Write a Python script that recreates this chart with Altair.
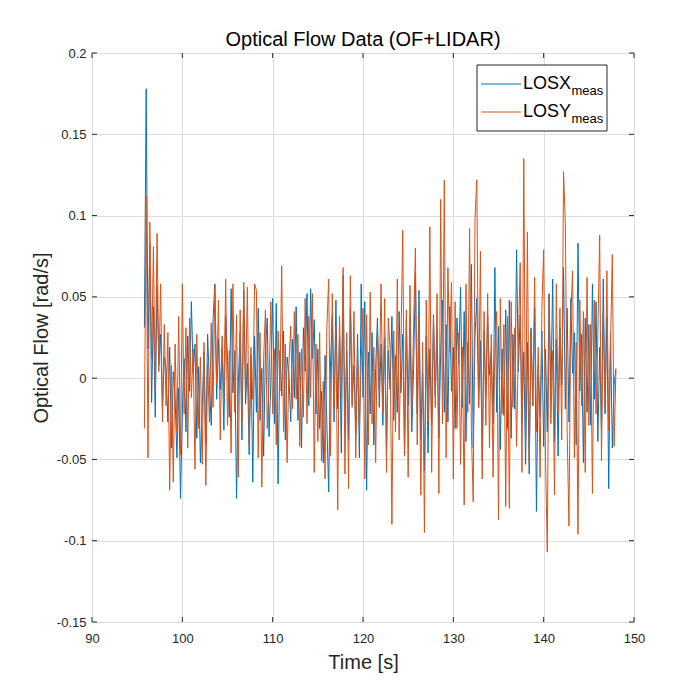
import altair as alt
import pandas as pd

# time axis: start and step of the samples (s)
T0 = 95.8
DT = 0.2

losx = [
    0.031, 0.178, 0.018, 0.083, -0.015, 0.044, -0.024, 0.057, 0.008, 0.027, -0.018, 0.013,
    0.006, -0.027, 0.019, -0.043, 0.004, -0.012, -0.049, -0.006, -0.074, -0.021,
    0.012, -0.033, 0.026, -0.008, 0.047, 0.003, 0.021, -0.037, 0.007, -0.052,
    -0.018, 0.016, -0.041, 0.027, -0.004, -0.029, 0.036, 0.058, -0.013, 0.024,
    -0.007, 0.019, -0.032, 0.038, 0.011, -0.024, 0.055, -0.009, 0.017, -0.074,
    -0.003, 0.028, -0.038, 0.054, -0.016, 0.009, -0.047, 0.014, -0.064, 0.026,
    -0.021, 0.043, -0.026, 0.006, -0.048, 0.018, 0.037, -0.036, -0.002, 0.049,
    -0.028, 0.046, -0.065, 0.017, -0.011, 0.029, -0.038, 0.013, 0.002, -0.027,
    0.024, -0.012, 0.044, -0.026, 0.016, -0.043, 0.031, 0.004, 0.052, -0.017,
    0.055, 0.012, 0.036, -0.022, 0.018, -0.031, -0.008, -0.052, 0.014, -0.028,
    -0.07, 0.008, 0.039, -0.027, 0.048, -0.019, 0.026, -0.046, 0.063, -0.032,
    0.017, -0.038, 0.043, -0.016, 0.008, -0.034, 0.027, -0.049, 0.058, -0.012,
    0.047, -0.069, 0.016, -0.022, 0.028, -0.041, 0.006, 0.037, -0.018, 0.021,
    -0.029, 0.025, -0.044, 0.017, -0.007, 0.038, -0.026, 0.014, -0.021, 0.041,
    -0.009, 0.027, -0.048, 0.036, -0.017, 0.031, -0.033, 0.006, 0.065, -0.022,
    0.054, -0.038, 0.003, -0.057, 0.026, -0.046, 0.018, -0.029, 0.039, -0.011,
    0.028, -0.037, 0.016, 0.048, -0.021, 0.033, -0.027, 0.044, -0.008, 0.019,
    -0.031, 0.037, 0.009, 0.056, -0.018, 0.041, -0.039, 0.022, -0.016, 0.07,
    -0.043, 0.026, 0.049, -0.018, 0.023, -0.051, 0.029, -0.011, 0.038, 0.002,
    0.017, -0.028, 0.068, -0.021, 0.032, -0.044, 0.018, -0.023, 0.042, -0.031,
    0.048, -0.037, 0.027, -0.019, 0.079, 0.004, 0.039, -0.028, 0.016, -0.053,
    0.022, -0.059, 0.031, -0.017, 0.043, -0.082, 0.008, -0.024, 0.029, -0.042,
    0.018, -0.033, 0.052, -0.012, 0.061, -0.039, 0.024, -0.048, 0.031, -0.004,
    0.068, -0.019, 0.043, -0.027, 0.049, 0.003, 0.028, -0.041, 0.083, -0.008,
    0.027, -0.052, 0.037, -0.021, 0.033, -0.029, 0.058, -0.013, 0.047, -0.039,
    0.019, -0.031, 0.061, -0.022, 0.038, -0.068, 0.027, -0.043, -0.004, 0.006,
]

losy = [
    -0.031, 0.112, -0.049, 0.096, 0.012, 0.081, -0.008, 0.089, 0.004, 0.058, -0.027, 0.033,
    -0.017, 0.028, -0.069, 0.008, -0.064, 0.021, -0.033, 0.038, -0.047, 0.058,
    -0.022, 0.031, -0.043, 0.037, -0.012, 0.018, -0.056, 0.027, -0.031, 0.013,
    -0.053, 0.022, -0.066, 0.009, -0.027, 0.034, -0.018, 0.057, -0.004, 0.048,
    -0.038, 0.026, -0.012, 0.061, -0.029, 0.017, -0.046, 0.058, -0.021, 0.039,
    -0.061, 0.042, -0.027, 0.059, -0.008, 0.056, -0.041, 0.019, -0.013, 0.058,
    0.054, -0.049, 0.028, -0.067, 0.012, 0.042, -0.031, -0.003, 0.047, -0.022,
    0.018, -0.041, 0.029, -0.008, 0.069, -0.033, 0.021, -0.052, 0.009, 0.032,
    -0.019, 0.041, -0.013, 0.027, -0.042, 0.018, -0.024, 0.049, -0.028, 0.038,
    -0.012, 0.052, -0.058, 0.021, -0.039, 0.028, -0.051, -0.002, -0.062, 0.031,
    0.061, -0.048, 0.052, -0.019, 0.032, -0.081, 0.038, -0.012, 0.068, -0.059,
    0.028, -0.068, 0.063, -0.018, 0.041, -0.049, 0.017, -0.032, 0.011, 0.043,
    -0.062, 0.039, -0.041, 0.053, -0.028, 0.019, -0.052, 0.031, -0.007, 0.058,
    -0.021, 0.049, -0.058, 0.037, 0.018, -0.09, 0.029, -0.033, 0.061, -0.038,
    0.021, 0.091, -0.047, 0.042, -0.061, 0.057, -0.019, 0.031, 0.08, -0.041,
    0.038, -0.072, 0.022, -0.095, 0.048, -0.027, 0.093, -0.058, 0.037, -0.018,
    0.052, -0.071, 0.11, -0.028, 0.122, -0.049, 0.068, 0.016, 0.059, -0.062,
    0.047, -0.031, 0.028, -0.053, 0.019, -0.078, 0.058, -0.021, 0.092, -0.033,
    -0.076, 0.098, 0.122, -0.018, 0.078, -0.062, 0.041, -0.029, 0.052, -0.043,
    0.027, -0.061, 0.018, 0.041, -0.087, 0.049, -0.022, 0.033, -0.079, 0.038,
    -0.08, 0.047, -0.018, 0.031, -0.042, 0.021, 0.071, -0.058, 0.135, -0.039,
    0.09, -0.052, 0.028, -0.017, 0.062, -0.033, 0.019, -0.061, 0.042, 0.079,
    -0.048, -0.107, 0.051, -0.028, 0.017, -0.072, 0.058, -0.021, 0.043, -0.038,
    0.127, 0.095, -0.032, -0.091, 0.038, 0.066, -0.049, 0.022, -0.096, 0.048,
    -0.017, 0.041, -0.058, 0.062, -0.029, 0.033, -0.071, 0.048, -0.022, 0.027,
    0.088, -0.051, 0.039, -0.018, 0.066, -0.032, 0.021, 0.076, -0.042, 0.005,
]

x_ticks = [90, 100, 110, 120, 130, 140, 150]
y_ticks = [-0.15, -0.1, -0.05, 0, 0.05, 0.1, 0.15, 0.2]

series_names = ["LOSX", "LOSY"]
series_colors = ["#0072BD", "#D95319"]

W, H = 542, 569

t = [round(T0 + DT * i, 2) for i in range(len(losx))]
df_x = pd.DataFrame({"t": t, "v": losx, "s": "LOSX"})
df_y = pd.DataFrame({"t": t, "v": losy, "s": "LOSY"})

xscale = alt.Scale(domain=[90, 150], nice=False, zero=False)
yscale = alt.Scale(domain=[-0.15, 0.2], nice=False, zero=False)
cscale = alt.Scale(domain=series_names, range=series_colors)

lab_expr = "datum.value < 0 ? '-' + format(-datum.value, '~g') : format(datum.value, '~g')"

x_axis = alt.Axis(values=x_ticks, title="Time [s]", grid=True, ticks=False, tickSize=0,
                  domain=False, labelPadding=10, labelFontSize=13, labelColor="#262626",
                  labelFlush=False, labelOverlap=False,
                  titleFontSize=20, titleFontWeight="normal", titleColor="#262626",
                  titleY=46, titleBaseline="alphabetic", labelExpr=lab_expr)
y_axis = alt.Axis(values=y_ticks, title="Optical Flow [rad/s]", grid=True, ticks=False, tickSize=0,
                  domain=False, labelPadding=6, labelFontSize=13, labelColor="#262626",
                  labelFlush=False, labelOverlap=False,
                  titleFontSize=20, titleFontWeight="normal", titleColor="#262626",
                  titleX=-45, titleY=H / 2, titleBaseline="alphabetic", titleAngle=-90,
                  titleAlign="center", labelExpr=lab_expr)

line_x = alt.Chart(df_x).mark_line(strokeWidth=1, clip=True).encode(
    x=alt.X("t:Q", scale=xscale, axis=x_axis),
    y=alt.Y("v:Q", scale=yscale, axis=y_axis),
    color=alt.Color("s:N", scale=cscale, legend=None),
)
line_y = alt.Chart(df_y).mark_line(strokeWidth=1, clip=True).encode(
    x=alt.X("t:Q", scale=xscale),
    y=alt.Y("v:Q", scale=yscale),
    color=alt.Color("s:N", scale=cscale, legend=None),
)

tick_color = "#262626"
xt = pd.DataFrame({"x": x_ticks})
yt = pd.DataFrame({"y": y_ticks})
ticks_bottom = alt.Chart(xt).mark_rule(color=tick_color, strokeWidth=1).encode(
    x=alt.X("x:Q", scale=xscale), y=alt.value(H), y2=alt.value(H - 5))
ticks_top = alt.Chart(xt).mark_rule(color=tick_color, strokeWidth=1).encode(
    x=alt.X("x:Q", scale=xscale), y=alt.value(0), y2=alt.value(5))
ticks_left = alt.Chart(yt).mark_rule(color=tick_color, strokeWidth=1).encode(
    y=alt.Y("y:Q", scale=yscale), x=alt.value(0), x2=alt.value(5))
ticks_right = alt.Chart(yt).mark_rule(color=tick_color, strokeWidth=1).encode(
    y=alt.Y("y:Q", scale=yscale), x=alt.value(W), x2=alt.value(W - 5))

# legend box (MATLAB style, with subscripts)
one = pd.DataFrame({"a": [0]})
leg_box = alt.Chart(one).mark_rect(fill="white", stroke="#262626", strokeWidth=1).encode(
    x=alt.value(385), x2=alt.value(515), y=alt.value(12), y2=alt.value(78))
leg_layers = [leg_box]
for i, (name, col) in enumerate(zip(series_names, series_colors)):
    yy = 31 + 28 * i
    leg_layers.append(alt.Chart(one).mark_rule(color=col, strokeWidth=1).encode(
        x=alt.value(389), x2=alt.value(429), y=alt.value(yy)))
    leg_layers.append(alt.Chart(one).mark_text(align="left", baseline="alphabetic", fontSize=18,
                                               font="Liberation Sans", color="black").encode(
        x=alt.value(431), y=alt.value(yy + 5), text=alt.value(name)))
    leg_layers.append(alt.Chart(one).mark_text(align="left", baseline="alphabetic", fontSize=13,
                                               font="Liberation Sans", color="black").encode(
        x=alt.value(479.5), y=alt.value(yy + 11), text=alt.value("meas")))

chart = alt.layer(line_x, line_y, ticks_bottom, ticks_top, ticks_left, ticks_right, *leg_layers).properties(
    width=W, height=H,
    autosize=alt.AutoSizeParams(type="none"),
    padding={"left": 84, "top": 45, "right": 50, "bottom": 70},
    title=alt.TitleParams("Optical Flow Data (OF+LIDAR)", fontSize=20, fontWeight="normal",
                          font="Liberation Sans", color="black", anchor="middle",
                          baseline="alphabetic", offset=7, dy=26),
).configure_view(stroke="#262626", strokeWidth=1).configure_axis(
    gridColor="#dfdfdf", gridWidth=1, labelFont="Liberation Sans", titleFont="Liberation Sans",
).configure(background="white")

chart.save("out.html", embed_options={"renderer": "svg", "actions": False})
